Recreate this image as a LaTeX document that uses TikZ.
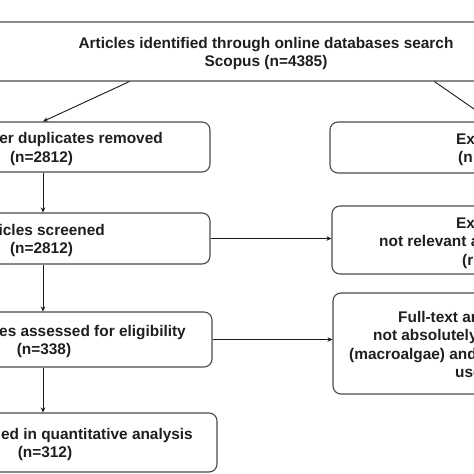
\documentclass[tikz,border=0pt]{standalone}
\usepackage{fontspec}
\setmainfont{Liberation Sans}
\usetikzlibrary{arrows.meta,calc}
\definecolor{boxgray}{HTML}{4A4A4A}
\begin{document}
\begin{tikzpicture}[x=1pt,y=-1pt,
  box/.style={draw=boxgray, line width=1.1pt, rounded corners=8pt, fill=white, inner sep=0pt},
  lbl/.style={inner sep=0pt, text=black!88, font=\fontsize{15.4}{18.5}\selectfont\bfseries},
  arr/.style={draw=black!90, line width=0.9pt, -{Stealth[length=5pt,width=4.5pt]}}]
\useasboundingbox (0,0) rectangle (474,474);
\clip (0,0) rectangle (474,474);
% boxes
\node[box, minimum width=740pt, minimum height=59pt] (top) at (270,51.5) {};
\node[box, minimum width=334pt, minimum height=50pt] (b2) at (43,147) {};
\node[box, minimum width=334pt, minimum height=51pt] (b3) at (43,238.5) {};
\node[box, minimum width=338pt, minimum height=55pt] (b4) at (43,339.5) {};
\node[box, minimum width=348pt, minimum height=59pt] (b5) at (43,442.5) {};
\node[box, minimum width=324pt, minimum height=51pt] (rA) at (492,147.5) {};
\node[box, minimum width=320pt, minimum height=68pt] (rB) at (492,240) {};
\node[box, minimum width=318pt, minimum height=101pt] (rC) at (492,343.5) {};
% texts
\node[lbl, anchor=base] (t1) at (266,48) {Articles identified through online databases search};
\node[lbl, anchor=base] (t2) at (266,66.5) {Scopus (n=4385)};
\node[lbl, anchor=base east] (b2a) at (163,143.5) {er duplicates removed};
\node[lbl, anchor=base] (b2b) at (41.5,162) {(n=2812)};
\node[lbl, anchor=base east] (b3a) at (105,235) {icles screened};
\node[lbl, anchor=base] (b3b) at (41.5,253.5) {(n=2812)};
\node[lbl, anchor=base east] (b4a) at (186,336) {es assessed for eligibility};
\node[lbl, anchor=base] (b4b) at (44,354.5) {(n=338)};
\node[lbl, anchor=base east] (b5a) at (193,439) {ed in quantitative analysis};
\node[lbl, anchor=base] (b5b) at (45,457.5) {(n=312)};
\node[lbl, anchor=base west] (rAa) at (456,144) {Ex};
\node[lbl, anchor=base west] (rAb) at (458,162.5) {(n};
\node[lbl, anchor=base west] (rBa) at (456,228) {Ex};
\node[lbl, anchor=base west] (rBb) at (379,246.5) {not relevant a};
\node[lbl, anchor=base west] (rBc) at (462,265) {(r};
\node[lbl, anchor=base west] (rCa) at (398,322) {Full-text ar};
\node[lbl, anchor=base west] (rCb) at (373,340.5) {not absolutely};
\node[lbl, anchor=base west] (rCc) at (349,359) {(macroalgae) and};
\node[lbl, anchor=base west] (rCd) at (455,377.5) {use};
% connectors
\draw[arr] ($(top.south west)+(230,0)$) -- (b2.north);
\draw[arr] ($(top.south west)+(535,0)$) -- (rA.north);
\draw[arr] (b2.south) -- (b3.north);
\draw[arr] (b3.south) -- (b4.north);
\draw[arr] (b4.south) -- (b5.north);
\draw[arr] (b3.east) -- (b3.east -| rB.west);
\draw[arr] (b4.east) -- (b4.east -| rC.west);
\end{tikzpicture}
\end{document}
